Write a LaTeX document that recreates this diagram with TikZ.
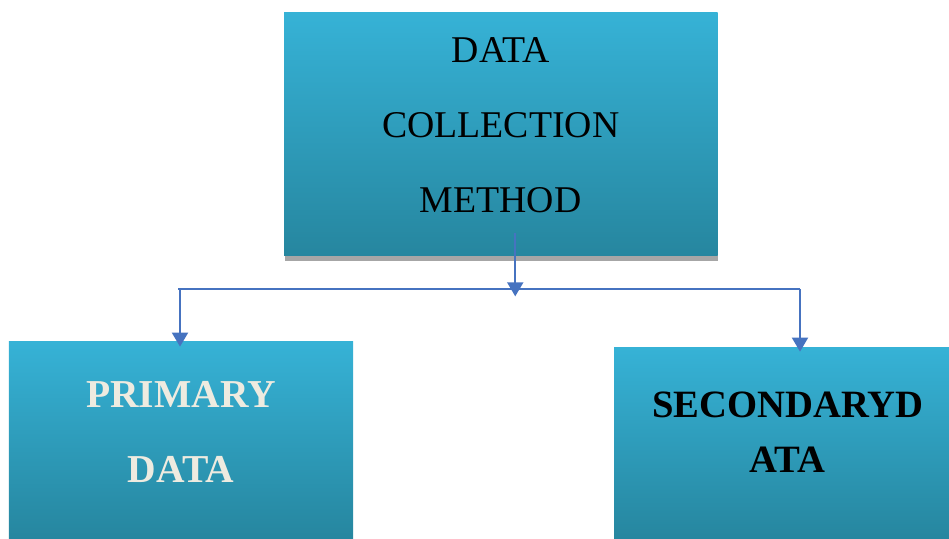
\documentclass[tikz,border=0pt]{standalone}
\usepackage{fontspec}
\setmainfont{Liberation Serif}
\usepackage{tikz}
\usetikzlibrary{calc,shapes,positioning}
\usetikzlibrary{shadows}
\usetikzlibrary{arrows.meta}
\tikzset{>={Triangle[width=3.2mm,length=2.8mm]}}
\definecolor{boxtop}{RGB}{54,178,214}
\definecolor{boxbot}{RGB}{38,134,159}
\definecolor{linkblue}{RGB}{70,115,192}
\definecolor{cream}{RGB}{238,235,224}

\begin{document}
\begin{tikzpicture}
        \tikzstyle{bnode} = [rectangle, inner sep = 0pt, top color=boxtop, bottom color=boxbot, align=center]
        \tikzstyle{link} = [linkblue, line width=1.1pt]

        \useasboundingbox (0,0) rectangle (18.98,-10.78);

        \node[bnode, minimum width=8.67cm, minimum height=4.86cm, font={\fontsize{21.5}{42.7}\selectfont},
              text depth=0.38cm,
              drop shadow={shadow xshift=0.01cm, shadow yshift=-0.1cm, fill=black!35, opacity=1}]
              (n0) at (10.015,-2.69) {DATA\\ COLLECTION\\ METHOD};
        \node[bnode, minimum width=6.88cm, minimum height=3.94cm, text=cream, text depth=0.34cm,
              font={\fontsize{22.5}{42.7}\selectfont\bfseries}]
              (n11) at (3.62,-8.81) {PRIMARY\\ DATA};
        \node[bnode, minimum width=6.7cm, minimum height=3.82cm, text depth=0.46cm,
              font={\fontsize{22}{31.3}\selectfont\bfseries}]
              (n12) at (15.63,-8.87) {\hspace*{0.25cm}SECONDARYD\\ \hspace*{0.25cm}ATA};

        \coordinate (busl) at (3.56,-5.78);
        \coordinate (busr) at (16.0,-5.78);

        \draw[link] (busl) -- (busr);
        \draw[link, ->] ($(n0.south)+(0.29,0.46)$) -- ($(n0.south)+(0.29,-0.8)$);
        \draw[link, ->] ($(busl)+(0.04,0)$) -- ($(n11.north)+(-0.02,-0.1)$);
        \draw[link, ->] (busr) -- ($(busr |- n12.north)+(0,-0.08)$);
\end{tikzpicture}
\end{document}
